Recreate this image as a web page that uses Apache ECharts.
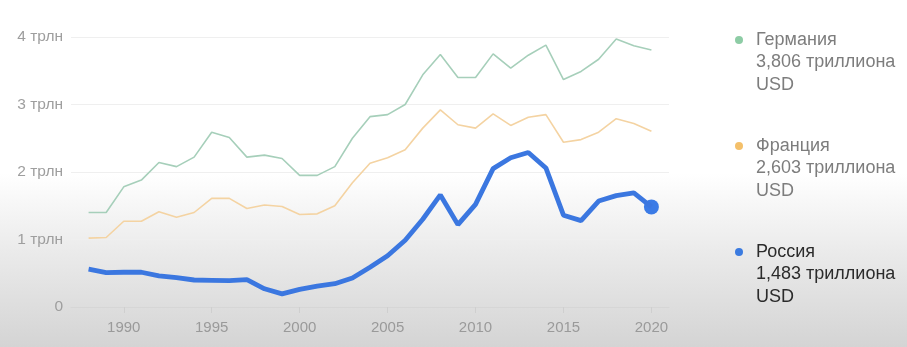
<!DOCTYPE html>
<html>
<head>
<meta charset="utf-8">
<script src="https://cdn.jsdelivr.net/npm/echarts@6/dist/echarts.min.js"></script>
<style>
html,body{margin:0;padding:0;}
body{width:907px;height:347px;overflow:hidden;
background:linear-gradient(to bottom,#ffffff 0%,#ffffff 50%,#ebebeb 72%,#d4d4d4 100%);}
#c{width:907px;height:347px;}
</style>
</head>
<body>
<div id="c"></div>
<script>
const years = [1988,1989,1990,1991,1992,1993,1994,1995,1996,1997,1998,1999,2000,2001,2002,2003,2004,2005,2006,2007,2008,2009,2010,2011,2012,2013,2014,2015,2016,2017,2018,2019,2020];
const germany = [1.40,1.40,1.78,1.88,2.14,2.08,2.22,2.59,2.51,2.22,2.25,2.20,1.95,1.95,2.08,2.50,2.82,2.85,3.00,3.44,3.74,3.40,3.40,3.75,3.54,3.73,3.88,3.37,3.49,3.67,3.97,3.87,3.806];
const france = [1.02,1.03,1.27,1.27,1.41,1.33,1.40,1.61,1.61,1.46,1.51,1.49,1.37,1.38,1.50,1.84,2.13,2.21,2.33,2.65,2.92,2.70,2.65,2.86,2.69,2.81,2.85,2.44,2.48,2.59,2.79,2.72,2.603];
const russia = [0.56,0.51,0.515,0.515,0.46,0.435,0.40,0.395,0.39,0.405,0.27,0.195,0.26,0.31,0.345,0.43,0.59,0.76,0.99,1.30,1.66,1.22,1.52,2.05,2.21,2.29,2.06,1.36,1.28,1.57,1.65,1.69,1.483];
const xTicks = [1990,1995,2000,2005,2010,2015,2020];
const yTicks = [0,1,2,3,4];
const names = ['Германия','Франция','Россия'];

const pairs = arr => arr.map((v,i)=>[years[i],v]);
const fmt = v => v.toFixed(3).replace('.',',');
const lastG = germany[germany.length-1], lastF = france[france.length-1], lastR = russia[russia.length-1];

const chart = echarts.init(document.getElementById('c'));
const FONT = 'Liberation Sans, Arial, sans-serif';
chart.setOption({
  backgroundColor:'transparent',
  animation:false,
  grid:{left:71,right:238,top:37,bottom:40},
  xAxis:{type:'value',min:1987,max:2021,
    axisLine:{show:true,lineStyle:{color:'#d6d6d6'}},
    axisTick:{show:true,customValues:xTicks,length:6,lineStyle:{color:'#cfcfcf'}},
    axisLabel:{customValues:xTicks,color:'#9a9a9a',fontSize:15,fontFamily:FONT,margin:13,formatter:v=>String(v)},
    splitLine:{show:false}},
  yAxis:{type:'value',min:0,max:4,interval:1,
    axisLine:{show:false},axisTick:{show:false},
    axisLabel:{color:'#9e9e9e',fontSize:15.5,fontFamily:FONT,margin:8,formatter:v=>v===0?'0':v+' трлн'},
    splitLine:{lineStyle:{color:'#efefef',width:1}}},
  series:[
    {name:names[0],type:'line',data:pairs(germany),showSymbol:false,lineStyle:{color:'#a6cfba',width:1.6},itemStyle:{color:'#8dcca5'}},
    {name:names[1],type:'line',data:pairs(france),showSymbol:false,lineStyle:{color:'#f4d3a2',width:1.6},itemStyle:{color:'#f4c06a'}},
    {name:names[2],type:'line',data:pairs(russia),showSymbol:false,lineStyle:{color:'#3b77e0',width:4.8},itemStyle:{color:'#3b77e0'}},
    {type:'scatter',data:[[years[years.length-1],lastR]],symbolSize:15,itemStyle:{color:'#3b7be6',opacity:1}}
  ],
  graphic:[
    {type:'circle',shape:{cx:739,cy:40,r:4},style:{fill:'#8dcca5'}},
    {type:'circle',shape:{cx:739,cy:146,r:4},style:{fill:'#f4c06a'}},
    {type:'circle',shape:{cx:739,cy:252,r:4},style:{fill:'#3b7be0'}},
    {type:'text',x:756,y:28.75,style:{text:names[0]+'\n'+fmt(lastG)+' триллиона\nUSD',fill:'#7d7d7d',font:'18px '+FONT,lineHeight:22.5}},
    {type:'text',x:756,y:134.75,style:{text:names[1]+'\n'+fmt(lastF)+' триллиона\nUSD',fill:'#7d7d7d',font:'18px '+FONT,lineHeight:22.5}},
    {type:'text',x:756,y:240.75,style:{text:names[2]+'\n'+fmt(lastR)+' триллиона\nUSD',fill:'#2b2b2b',font:'18px '+FONT,lineHeight:22.5}}
  ]
});
</script>
</body>
</html>
